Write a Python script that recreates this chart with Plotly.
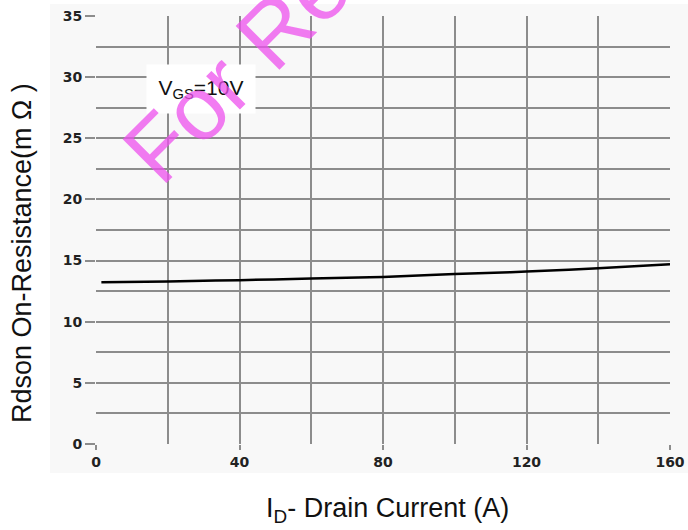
import plotly.graph_objects as go

# Data
drain_current = [1.5, 20, 40, 60, 80, 100, 120, 140, 160]
rdson = [13.23, 13.29, 13.40, 13.53, 13.66, 13.90, 14.10, 14.37, 14.70]

x_ticks = [0, 40, 80, 120, 160]
y_ticks = [0, 5, 10, 15, 20, 25, 30, 35]

FONT = "Liberation Sans, Arial, sans-serif"
TICKFONT = "DejaVu Sans, Verdana, sans-serif"
GRID = "#8c8c8c"

fig = go.Figure()
fig.add_trace(go.Scatter(
    x=drain_current, y=rdson, mode="lines",
    line=dict(color="black", width=2.5, shape="spline"),
    showlegend=False, hoverinfo="skip",
))

fig.update_layout(
    width=688, height=530,
    margin=dict(l=96, r=18, t=16, b=86, autoexpand=False),
    paper_bgcolor="white", plot_bgcolor="white",
    font=dict(family=FONT, color="#111"),
    shapes=[dict(type="rect", xref="paper", yref="paper",
                 x0=-46/574, x1=592/574, y0=-29/428, y1=440/428,
                 fillcolor="#f8f8f8", line=dict(width=0), layer="below")],
)

fig.update_xaxes(
    range=[0, 160], tickvals=x_ticks, ticktext=[str(v) for v in x_ticks],
    ticks="outside", ticklen=5, tickcolor=GRID, tickwidth=1.5,
    showgrid=True, gridcolor=GRID, gridwidth=1.5,
    minor=dict(dtick=20, tick0=0, showgrid=True, gridcolor=GRID, gridwidth=1.5),
    showline=False, zeroline=False, automargin=False,
    tickfont=dict(size=14, family=TICKFONT, color="#222", weight="bold"),
)
fig.update_yaxes(
    range=[0, 35], tickvals=y_ticks, ticktext=[str(v) for v in y_ticks],
    ticks="outside", ticklen=10, tickcolor=GRID, tickwidth=1.5,
    showgrid=True, gridcolor=GRID, gridwidth=1.5,
    minor=dict(dtick=2.5, tick0=0, showgrid=True, gridcolor=GRID, gridwidth=1.5),
    showline=False, zeroline=False, automargin=False,
    tickfont=dict(size=14, family=TICKFONT, color="#222", weight="bold"),
)

# Axis titles
fig.add_annotation(
    x=0.5087, y=-0.154, xref="paper", yref="paper", showarrow=False,
    xanchor="center", yanchor="middle",
    text="I<sub>D</sub>- Drain Current (A)", font=dict(size=27, family=FONT, color="#111"),
)
fig.add_annotation(
    x=-0.129, y=0.446, xref="paper", yref="paper", showarrow=False,
    xanchor="center", yanchor="middle", textangle=-90,
    text="Rdson On-Resistance(m Ω )", font=dict(size=27, family=FONT, color="#111"),
)

fig.add_annotation(
    x=29.3, y=29.0, xref="x", yref="y", showarrow=False,
    text="V<sub>GS</sub>=10V", font=dict(size=21, family=FONT, color="#111"),
    bgcolor="white", width=100, height=40, borderpad=4,
)

# Watermark
fig.add_annotation(
    x=0.4296, y=1.124, xref="paper", yref="paper", showarrow=False,
    xanchor="center", yanchor="middle",
    text="For Reference", textangle=-45,
    font=dict(size=90, family=FONT, color="rgba(238,80,238,0.75)"),
)

fig.write_html("out.html")
